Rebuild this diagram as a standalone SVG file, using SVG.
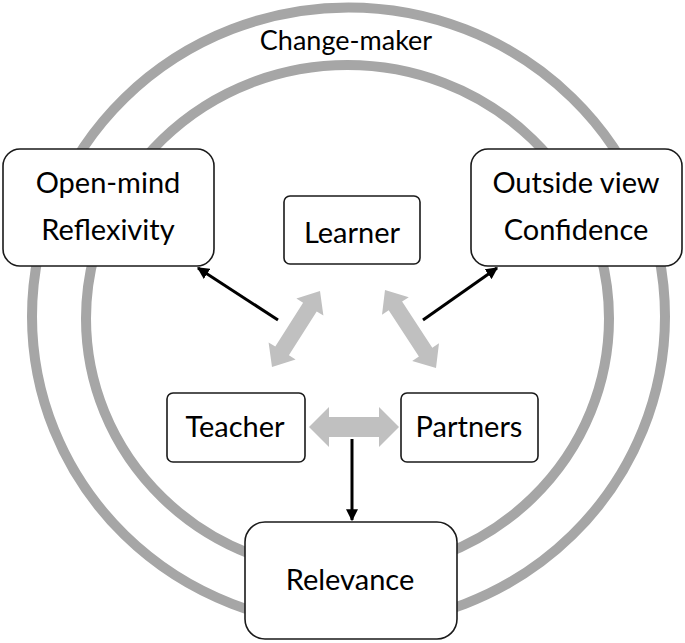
<svg xmlns="http://www.w3.org/2000/svg" width="685" height="643" viewBox="0 0 685 643">
<defs>
<style>
.ring{fill:none;stroke:#a6a6a6;stroke-width:10}
.box{fill:#fff;stroke:#1a1a1a;stroke-width:1.6}
.lbl{font-family:Lato,"Open Sans","Liberation Sans",sans-serif;font-size:29px;fill:#000;text-anchor:middle}
.ga{fill:#c0c0c0;stroke:none}
.ba{stroke:#000;stroke-width:3;fill:none;marker-end:url(#ah)}
</style>
<marker id="ah" viewBox="0 0 10 10" refX="9" refY="5" markerWidth="4" markerHeight="4" orient="auto" markerUnits="strokeWidth">
<path d="M0,0 L10,5 L0,10 Z" fill="#000"/>
</marker>
</defs>
<rect width="685" height="643" fill="#fff"/>
<g id="rings">
<ellipse class="ring" cx="348.5" cy="316.5" rx="316.5" ry="309"/>
<ellipse class="ring" cx="347.5" cy="318.6" rx="261.5" ry="253.6"/>
<text class="lbl" x="346" y="50" style="font-size:27px">Change-maker</text>
</g>
<g id="connectors">
<polygon class="ga" points="320,291 323.4,315.6 316.7,311.4 288.9,355.2 295.6,359.4 272,367 268.6,342.4 275.3,346.6 303.1,302.8 296.4,298.6"/>
<polygon class="ga" points="385,290 408.8,297.2 402.1,301.5 432.3,347.7 439,343.3 436,368 412.2,360.9 418.9,356.5 388.7,310.3 382,314.7"/>
<polygon class="ga" points="309,427 329,407 329,417 379,417 379,407 399,427 379,447 379,437 329,437 329,447"/>
<line class="ba" x1="278" y1="320" x2="198" y2="268"/>
<line class="ba" x1="423" y1="320" x2="497" y2="268"/>
<line class="ba" x1="352" y1="439" x2="352" y2="520"/>
</g>
<g id="openmind">
<rect class="box" x="3" y="149" width="211" height="117" rx="17"/>
<text class="lbl" x="108" y="193">Open-mind</text>
<text class="lbl" x="108" y="240">Reflexivity</text>
</g>
<g id="learner">
<rect class="box" x="284" y="196" width="136" height="68" rx="6"/>
<text class="lbl" x="352" y="243">Learner</text>
</g>
<g id="outside">
<rect class="box" x="471" y="149" width="211" height="117" rx="17"/>
<text class="lbl" x="576" y="193">Outside view</text>
<text class="lbl" x="576" y="240">Confidence</text>
</g>
<g id="teacher">
<rect class="box" x="167" y="393" width="138" height="69" rx="6"/>
<text class="lbl" x="235" y="437">Teacher</text>
</g>
<g id="partners">
<rect class="box" x="401" y="393" width="137" height="69" rx="6"/>
<text class="lbl" x="469" y="437">Partners</text>
</g>
<g id="relevance">
<rect class="box" x="245" y="522" width="212" height="117" rx="20"/>
<text class="lbl" x="350" y="590">Relevance</text>
</g>
</svg>
